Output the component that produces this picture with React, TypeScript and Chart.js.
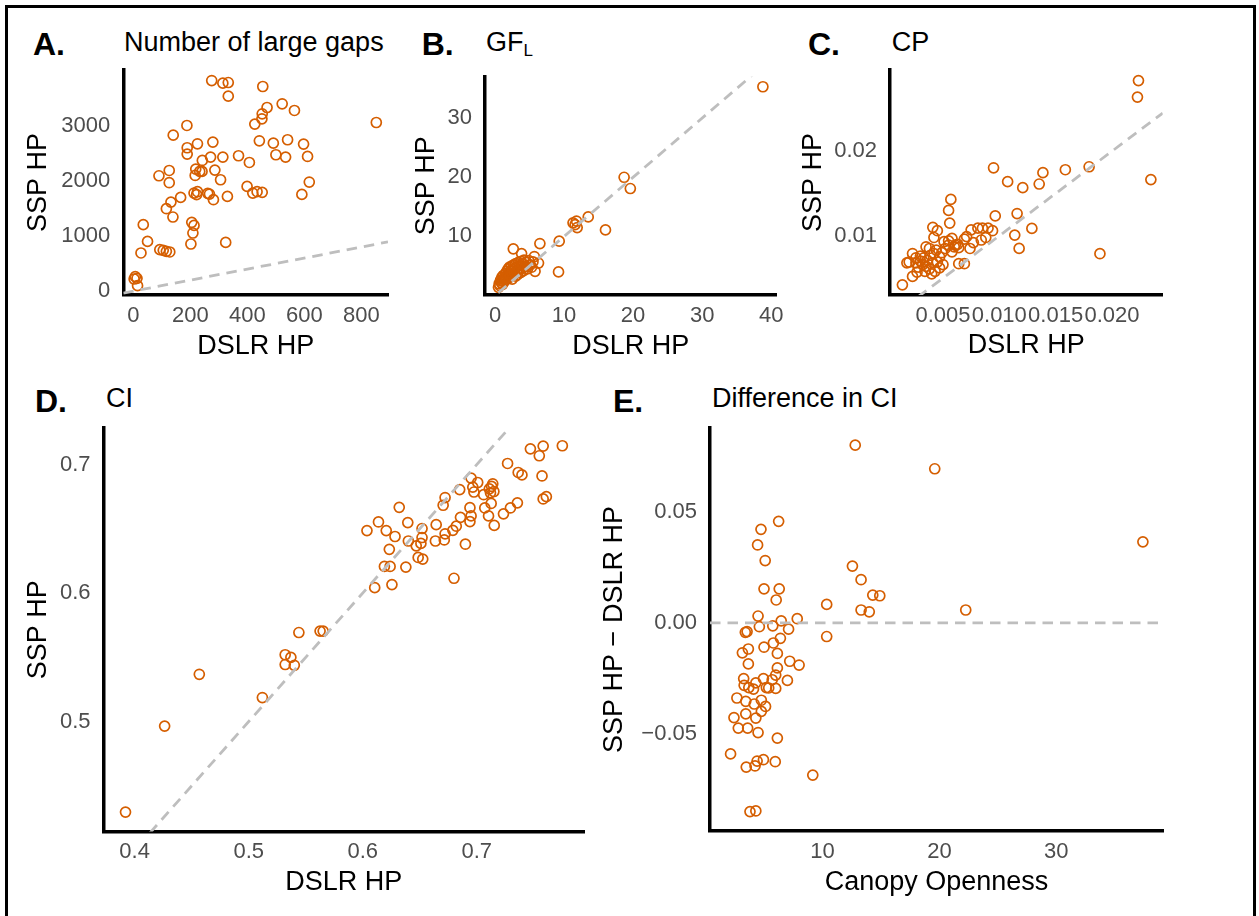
import React, { useEffect, useRef } from 'react';
import { Chart, registerables } from 'chart.js';

Chart.register(...registerables);

const FONT = '"Liberation Sans", Arial, Helvetica, sans-serif';
const ORANGE = '#D55E00';
const REF_GREY = '#BEBEBE';
const TICK_GREY = '#4D4D4D';

// ---------- Panel A: Number of large gaps ----------
const A_DSLR = [275, 314, 333, 333, 454, 522, 565, 469, 452, 451, 426, 852, 188, 140, 189, 189, 225, 279, 271, 314, 242, 369, 407, 442, 491, 541, 597, 500, 534, 611, 617, 591, 126, 90, 126, 219, 233, 217, 241, 286, 306, 166, 132, 116, 139, 213, 225, 222, 261, 267, 281, 330, 399, 419, 434, 452, 205, 213, 209, 202, 324, 35, 50, 27, 93, 105, 116, 128, 7, 13, 15, 3];
const A_SSP = [3819, 3771, 3783, 3536, 3711, 3397, 3276, 3330, 3216, 3125, 3029, 3058, 3004, 2829, 2600, 2485, 2672, 2703, 2431, 2431, 2370, 2455, 2333, 2726, 2684, 2745, 2667, 2473, 2431, 2442, 1978, 1754, 2188, 2092, 1966, 2213, 2171, 2098, 2171, 2195, 2020, 1700, 1615, 1495, 1344, 1779, 1803, 1749, 1773, 1761, 1658, 1718, 1899, 1779, 1803, 1791, 1247, 1192, 1054, 855, 884, 1205, 902, 692, 752, 740, 722, 710, 263, 233, 100, 220];
const A_X_RANGE = [-35, 893];
const A_Y_RANGE = [-70, 4010];
const A_X_TICKS = [0, 200, 400, 600, 800];
const A_X_LABELS = ['0', '200', '400', '600', '800'];
const A_Y_TICKS = [0, 1000, 2000, 3000];
const A_Y_LABELS = ['0', '1000', '2000', '3000'];

// ---------- Panel B: GF_L ----------
const B_DSLR = [38.8, 18.7, 19.6, 13.5, 16.0, 11.3, 11.8, 11.9, 11.6, 9.3, 6.5, 9.2, 2.65, 3.85, 5.7, 5.8, 6.3,
  0.5, 0.6, 0.7, 0.8, 0.9, 1.0, 1.0, 1.1, 1.2, 1.2, 1.3, 1.4, 1.5, 1.5, 1.6, 1.7, 1.7, 1.8, 1.9, 2.0, 2.0, 2.1, 2.2, 2.3, 2.4, 2.5, 2.5, 2.6, 2.7, 2.8, 2.9, 3.0, 3.0, 3.1, 3.2, 3.3, 3.4, 3.5, 3.6, 3.7, 3.8, 3.9, 4.0, 4.1, 4.2, 4.4, 4.5, 4.7, 4.9, 5.1, 5.3, 5.5];
const B_SSP = [35.3, 20.0, 18.1, 13.3, 11.1, 12.3, 12.6, 11.5, 12.0, 9.2, 8.8, 4.0, 7.9, 7.1, 6.6, 4.1, 5.5,
  1.4, 2.0, 1.7, 2.6, 2.2, 3.1, 2.5, 1.9, 2.8, 3.4, 2.3, 3.0, 3.7, 2.6, 3.2, 4.1, 2.9, 3.5, 4.5, 3.0, 3.8, 4.8, 3.4, 4.2, 5.0, 3.7, 2.8, 4.4, 5.2, 3.9, 4.7, 3.3, 5.4, 4.1, 4.9, 3.6, 5.6, 4.4, 5.1, 3.9, 5.8, 4.6, 5.3, 4.2, 6.0, 4.9, 5.6, 4.5, 5.9, 5.2, 4.8, 5.7];
const B_X_RANGE = [-1.45, 40.8];
const B_Y_RANGE = [0.1, 37.0];
const B_X_TICKS = [0, 10, 20, 30, 40];
const B_X_LABELS = ['0', '10', '20', '30', '40'];
const B_Y_TICKS = [10, 20, 30];
const B_Y_LABELS = ['10', '20', '30'];

// ---------- Panel C: CP ----------
const C_DSLR = [0.02235, 0.02226, 0.02345, 0.01893, 0.01797, 0.01586, 0.01387, 0.01354, 0.01208, 0.01074, 0.00949, 0.01158, 0.01289, 0.01137, 0.01176, 0.00964,
  0.0057, 0.0055, 0.0056, 0.0041, 0.0045, 0.0042, 0.0075, 0.0081, 0.0085, 0.0090, 0.0094, 0.0088, 0.0084, 0.0071, 0.0077, 0.0074, 0.0058, 0.0061, 0.0064, 0.0055, 0.0064, 0.0069, 0.0014, 0.0023, 0.0027, 0.0018, 0.0023, 0.0030, 0.0035, 0.0038, 0.0044, 0.0020, 0.0026, 0.0030, 0.0033, 0.0035, 0.0038, 0.0034, 0.0040, 0.0041, 0.0039, 0.0047, 0.0050, 0.0045, 0.0052, 0.0055, 0.0058, 0.0060, 0.0063, 0.0049, 0.0051, 0.0069, 0.0028, 0.0032, 0.0036, 0.0043, 0.0047, 0.0026, 0.0042];
const C_SSP = [0.02835, 0.0264, 0.01664, 0.00788, 0.01816, 0.01781, 0.01746, 0.01612, 0.01569, 0.0164, 0.01804, 0.01263, 0.01087, 0.01008, 0.00851, 0.01235,
  0.0143, 0.0130, 0.0115, 0.0110, 0.0106, 0.0098, 0.0107, 0.0109, 0.0109, 0.0109, 0.0106, 0.0098, 0.0095, 0.0099, 0.0092, 0.0085, 0.0097, 0.0089, 0.0086, 0.0094, 0.0067, 0.0067, 0.0042, 0.0052, 0.0057, 0.0068, 0.0079, 0.0076, 0.0087, 0.0085, 0.0083, 0.0069, 0.0068, 0.0070, 0.0074, 0.0064, 0.0061, 0.0058, 0.0055, 0.0068, 0.0077, 0.0075, 0.0066, 0.0069, 0.0085, 0.0089, 0.0081, 0.0087, 0.0090, 0.0080, 0.0093, 0.0096, 0.0063, 0.0066, 0.0071, 0.0058, 0.0062, 0.0074, 0.0079];
const C_X_RANGE = [0.0003, 0.0245];
const C_Y_RANGE = [0.0030, 0.0296];
const C_X_TICKS = [0.005, 0.01, 0.015, 0.02];
const C_X_LABELS = ['0.005', '0.010', '0.015', '0.020'];
const C_Y_TICKS = [0.01, 0.02];
const C_Y_LABELS = ['0.01', '0.02'];

// ---------- Panel D: CI ----------
const D_DSLR = [0.392, 0.4263, 0.4567, 0.512, 0.544, 0.5626, 0.5653, 0.532, 0.537, 0.532, 0.540, 0.6105, 0.6256, 0.619, 0.624, 0.6378, 0.6233, 0.6037, 0.6138, 0.6206, 0.6283, 0.632, 0.6395, 0.640, 0.6469, 0.651, 0.652, 0.652, 0.6486, 0.6526, 0.6644, 0.6637, 0.6715, 0.6722, 0.6705, 0.6722, 0.679, 0.682, 0.6857, 0.68, 0.690, 0.685, 0.695, 0.6965, 0.6975, 0.7008, 0.694, 0.695, 0.694, 0.706, 0.707, 0.7103, 0.7126, 0.711, 0.713, 0.714, 0.715, 0.712, 0.7153, 0.7234, 0.7295, 0.7356, 0.727, 0.7363, 0.7396, 0.747, 0.7548, 0.7582, 0.7572, 0.7582, 0.761, 0.775];
const D_SSP = [0.4296, 0.4965, 0.5368, 0.5187, 0.5693, 0.5704, 0.5704, 0.552, 0.550, 0.5444, 0.5438, 0.6042, 0.6066, 0.6207, 0.6207, 0.6202, 0.634, 0.6486, 0.6553, 0.6486, 0.644, 0.6667, 0.6548, 0.6405, 0.6367, 0.6386, 0.6432, 0.6502, 0.6277, 0.6264, 0.6532, 0.6405, 0.6413, 0.6461, 0.6683, 0.6743, 0.6488, 0.652, 0.6589, 0.6115, 0.638, 0.6805, 0.6894, 0.6824, 0.6786, 0.686, 0.6664, 0.66, 0.6556, 0.6765, 0.6662, 0.660, 0.6697, 0.681, 0.683, 0.685, 0.679, 0.678, 0.6526, 0.6616, 0.6662, 0.6702, 0.7008, 0.6938, 0.6919, 0.7122, 0.7068, 0.7143, 0.6911, 0.6732, 0.675, 0.7146];
const D_X_RANGE = [0.3727, 0.794];
const D_Y_RANGE = [0.4145, 0.7284];
const D_X_TICKS = [0.4, 0.5, 0.6, 0.7];
const D_X_LABELS = ['0.4', '0.5', '0.6', '0.7'];
const D_Y_TICKS = [0.5, 0.6, 0.7];
const D_Y_LABELS = ['0.5', '0.6', '0.7'];

// ---------- Panel E: Difference in CI ----------
const E_OPENNESS = [12.8, 19.6, 37.4, 6.25, 4.74, 4.45, 5.1, 12.56, 13.3, 5.0, 6.3, 6.04, 14.3, 14.9, 10.36, 13.3, 14.0, 22.25, 4.49, 6.47, 7.84, 5.75, 4.6, 7.1, 10.36, 3.4, 3.55, 6.4, 5.8, 5.0, 3.66, 3.15, 6.14, 3.66, 7.2, 8.0, 6.14, 6.0, 5.7, 5.4, 5.2, 6.0, 7.0, 4.95, 3.26, 4.3, 3.3, 3.7, 4.1, 2.68, 3.44, 4.16, 4.77, 5.13, 4.77, 3.44, 2.43, 4.3, 2.8, 3.6, 4.49, 6.14, 2.14, 3.48, 4.23, 4.41, 4.95, 5.96, 9.17, 3.8, 4.3];
const E_DIFF = [0.0798, 0.0692, 0.0364, 0.0456, 0.042, 0.035, 0.028, 0.0255, 0.0194, 0.0153, 0.0153, 0.0103, 0.0125, 0.0122, 0.0083, 0.0058, 0.005, 0.0058, 0.0031, 0.0009, 0.0019, -0.0013, -0.0017, -0.0028, -0.0061, -0.0042, -0.0039, -0.0069, -0.009, -0.0109, -0.0117, -0.0134, -0.0137, -0.0184, -0.0172, -0.0189, -0.0202, -0.0234, -0.0255, -0.0292, -0.029, -0.0294, -0.0258, -0.025, -0.025, -0.0269, -0.028, -0.029, -0.0297, -0.0337, -0.0352, -0.0364, -0.0347, -0.0375, -0.0397, -0.0408, -0.0425, -0.0427, -0.0472, -0.0472, -0.0492, -0.0517, -0.0588, -0.0647, -0.0642, -0.062, -0.0614, -0.0623, -0.0683, -0.0847, -0.0844];
const E_X_RANGE = [0.38, 39.12];
const E_Y_RANGE = [-0.0934, 0.0875];
const E_X_TICKS = [10, 20, 30];
const E_X_LABELS = ['10', '20', '30'];
const E_Y_TICKS = [-0.05, 0, 0.05];
const E_Y_LABELS = ['\u22120.05', '0.00', '0.05'];

const TICK_SIZE = 22;
const TITLE_SIZE = 27;
const TITLE_LH = 1.2;

type Rect = [number, number, number, number];

interface PanelProps {
  xs: number[];
  ys: number[];
  refLine: { x: number; y: number }[];
  xRange: number[];
  yRange: number[];
  xTicks: number[];
  xLabels: string[];
  yTicks: number[];
  yLabels: string[];
  xTitle: string;
  yTitle: string;
  plot: Rect;
  canvas: Rect;
  yTitleX: number;
  xTitleY: number;
}

function Panel(p: PanelProps) {
  const ref = useRef<HTMLCanvasElement>(null);
  const [cl, ct, cr, cb] = p.canvas;
  const [l, t, r, b] = p.plot;
  useEffect(() => {
    if (!ref.current) return;
    const tickFont = { family: FONT, size: TICK_SIZE };
    const titleFont = { family: FONT, size: TITLE_SIZE, lineHeight: TITLE_LH };
    const lh = TITLE_SIZE * TITLE_LH;
    const chart = new Chart(ref.current, {
      type: 'scatter',
      data: {
        datasets: [
          {
            data: p.refLine,
            showLine: true,
            borderColor: REF_GREY,
            borderWidth: 2.8,
            borderDash: [10.5, 7],
            pointRadius: 0,
            pointHoverRadius: 0,
            fill: false,
          } as any,
          {
            data: p.xs.map((x, i) => ({ x, y: p.ys[i] })),
            pointStyle: 'circle',
            pointRadius: 5,
            pointHoverRadius: 5,
            pointBorderWidth: 1.7,
            pointBorderColor: ORANGE,
            pointBackgroundColor: 'rgba(0,0,0,0)',
            borderColor: ORANGE,
            backgroundColor: 'rgba(0,0,0,0)',
          } as any,
        ],
      },
      options: {
        animation: false,
        responsive: false,
        maintainAspectRatio: false,
        devicePixelRatio: 1,
        events: [],
        plugins: {
          legend: { display: false },
          tooltip: { enabled: false },
          title: { display: false },
        },
        layout: { padding: { left: 0, top: t - ct, right: cr - r, bottom: 0 } },
        scales: {
          x: {
            type: 'linear',
            min: p.xRange[0],
            max: p.xRange[1],
            grid: { display: false, drawTicks: false },
            border: { display: true, color: '#000', width: 3.5 },
            ticks: {
              font: tickFont,
              color: TICK_GREY,
              padding: 7.5,
              autoSkip: false,
              maxRotation: 0,
              minRotation: 0,
              callback: (_v: any, i: number) => p.xLabels[i],
            },
            afterBuildTicks: (s: any) => {
              s.ticks = p.xTicks.map((v) => ({ value: v }));
            },
            afterFit: (s: any) => {
              s.height = cb - b;
            },
            title: {
              display: true,
              text: p.xTitle,
              font: titleFont,
              color: '#000',
              padding: { top: 0, bottom: cb - p.xTitleY - lh / 2 },
            },
          },
          y: {
            type: 'linear',
            min: p.yRange[0],
            max: p.yRange[1],
            grid: { display: false, drawTicks: false },
            border: { display: true, color: '#000', width: 3.5 },
            ticks: {
              font: tickFont,
              color: TICK_GREY,
              padding: 13,
              autoSkip: false,
              callback: (_v: any, i: number) => p.yLabels[i],
            },
            afterBuildTicks: (s: any) => {
              s.ticks = p.yTicks.map((v) => ({ value: v }));
            },
            afterFit: (s: any) => {
              s.width = l - cl;
            },
            title: {
              display: true,
              text: p.yTitle,
              font: titleFont,
              color: '#000',
              padding: { top: p.yTitleX - cl - lh / 2, bottom: 0 },
            },
          },
        },
      } as any,
    });
    return () => chart.destroy();
  }, []);
  return (
    <canvas
      ref={ref}
      width={cr - cl}
      height={cb - ct}
      style={{ position: 'absolute', left: cl, top: ct, width: cr - cl, height: cb - ct }}
    />
  );
}

function Label(props: { x: number; baseline: number; size: number; bold?: boolean; children: React.ReactNode }) {
  const { x, baseline, size, bold, children } = props;
  return (
    <div
      style={{
        position: 'absolute',
        left: x,
        top: baseline - 0.8465 * size,
        fontFamily: FONT,
        fontSize: size,
        lineHeight: `${size}px`,
        fontWeight: bold ? 700 : 400,
        whiteSpace: 'nowrap',
        color: '#000',
      }}
    >
      {children}
    </div>
  );
}

const identity = (range: number[]) => [
  { x: range[0], y: range[0] },
  { x: range[1], y: range[1] },
];

export default function App() {
  const LBL = 32;
  const TTL = TITLE_SIZE;
  return (
    <div style={{ position: 'absolute', left: 0, top: 0, width: 1259, height: 916, overflow: 'hidden', background: '#fff' }}>
      <div style={{ position: 'absolute', left: 5, top: 5, width: 1251, height: 1000, border: '3px solid #000', boxSizing: 'border-box' }} />

      <Label x={33} baseline={55} size={LBL} bold>A.</Label>
      <Label x={124} baseline={51.7} size={TTL}>Number of large gaps</Label>
      <Label x={421.7} baseline={55} size={LBL} bold>B.</Label>
      <Label x={486} baseline={51.7} size={TTL}>
        GF<span style={{ fontSize: 17, position: 'relative', top: 5 }}>L</span>
      </Label>
      <Label x={808} baseline={55} size={LBL} bold>C.</Label>
      <Label x={891.7} baseline={51.7} size={TTL}>CP</Label>
      <Label x={35} baseline={412} size={LBL} bold>D.</Label>
      <Label x={106} baseline={408.3} size={TTL}>CI</Label>
      <Label x={613} baseline={412} size={LBL} bold>E.</Label>
      <Label x={712} baseline={408.3} size={TTL}>Difference in CI</Label>

      <Panel
        xs={A_DSLR} ys={A_SSP} refLine={identity(A_X_RANGE)}
        xRange={A_X_RANGE} yRange={A_Y_RANGE}
        xTicks={A_X_TICKS} xLabels={A_X_LABELS} yTicks={A_Y_TICKS} yLabels={A_Y_LABELS}
        xTitle="DSLR HP" yTitle="SSP HP"
        plot={[123.3, 70, 388, 295]} canvas={[8, 30, 410, 365]} yTitleX={38.3} xTitleY={346.5}
      />
      <Panel
        xs={B_DSLR} ys={B_SSP} refLine={identity(B_X_RANGE)}
        xRange={B_X_RANGE} yRange={B_Y_RANGE}
        xTicks={B_X_TICKS} xLabels={B_X_LABELS} yTicks={B_Y_TICKS} yLabels={B_Y_LABELS}
        xTitle="DSLR HP" yTitle="SSP HP"
        plot={[485, 76.7, 776.7, 295]} canvas={[395, 36, 800, 365]} yTitleX={427} xTitleY={346.5}
      />
      <Panel
        xs={C_DSLR} ys={C_SSP} refLine={identity(C_X_RANGE)}
        xRange={C_X_RANGE} yRange={C_Y_RANGE}
        xTicks={C_X_TICKS} xLabels={C_X_LABELS} yTicks={C_Y_TICKS} yLabels={C_Y_LABELS}
        xTitle="DSLR HP" yTitle="SSP HP"
        plot={[890, 70, 1162.7, 295]} canvas={[780, 30, 1200, 365]} yTitleX={813.3} xTitleY={346}
      />
      <Panel
        xs={D_DSLR} ys={D_SSP} refLine={identity(D_X_RANGE)}
        xRange={D_X_RANGE} yRange={D_Y_RANGE}
        xTicks={D_X_TICKS} xLabels={D_X_LABELS} yTicks={D_Y_TICKS} yLabels={D_Y_LABELS}
        xTitle="DSLR HP" yTitle="SSP HP"
        plot={[103.5, 428, 584, 831.5]} canvas={[8, 390, 600, 905]} yTitleX={38.5} xTitleY={882.5}
      />
      <Panel
        xs={E_OPENNESS} ys={E_DIFF} refLine={[{ x: E_X_RANGE[0], y: 0 }, { x: E_X_RANGE[1], y: 0 }]}
        xRange={E_X_RANGE} yRange={E_Y_RANGE}
        xTicks={E_X_TICKS} xLabels={E_X_LABELS} yTicks={E_Y_TICKS} yLabels={E_Y_LABELS}
        xTitle="Canopy Openness" yTitle={'SSP HP \u2212 DSLR HP'}
        plot={[710, 428, 1163, 831]} canvas={[590, 390, 1200, 905]} yTitleX={615} xTitleY={882.5}
      />
    </div>
  );
}
